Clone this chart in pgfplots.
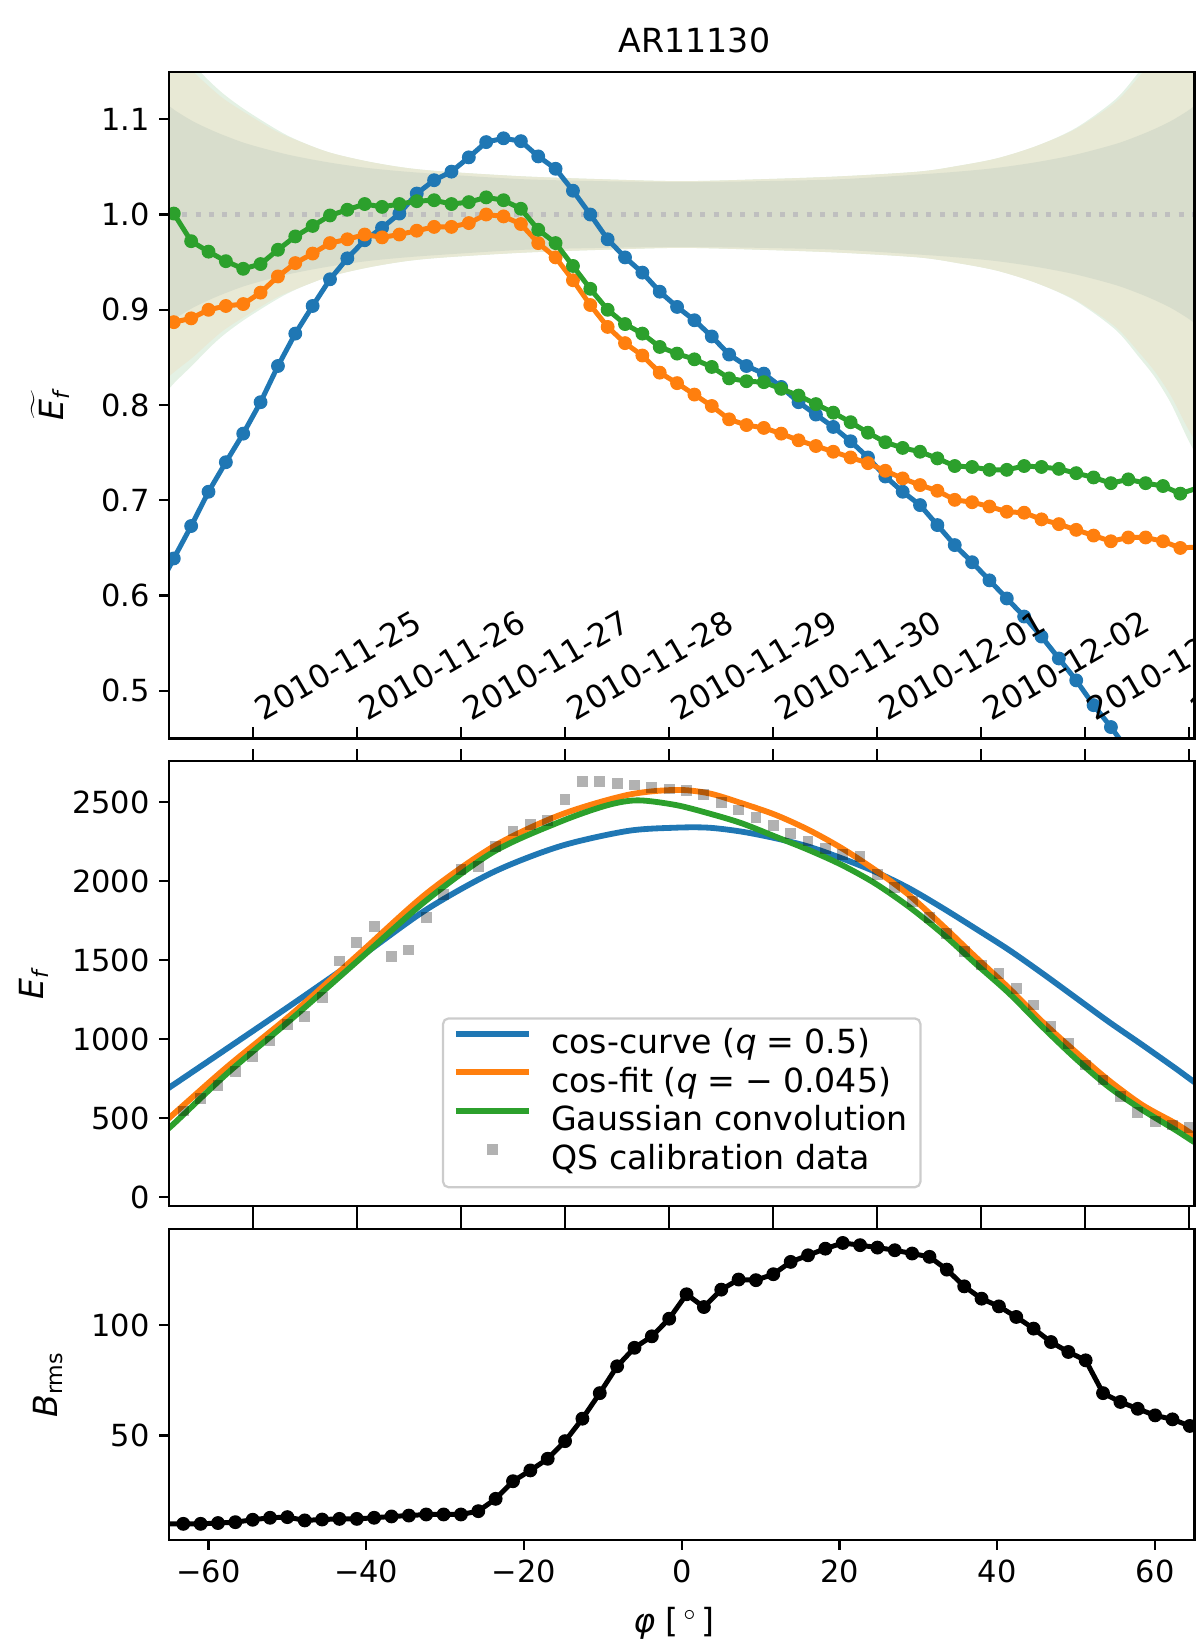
\documentclass[border=0pt]{standalone}
\usepackage{pgfplots}
\pgfplotsset{compat=1.18}
\usepackage{fontspec}
\setmainfont{DejaVu Sans}
\definecolor{c1}{RGB}{31,119,180}
\definecolor{c2}{RGB}{255,127,14}
\definecolor{c3}{RGB}{44,160,44}
\definecolor{bandtan}{RGB}{232,233,213}
\definecolor{banddark}{RGB}{216,221,204}
\definecolor{bandgreen}{RGB}{228,241,228}
\newcommand{\ticksz}{\fontsize{11}{13}\selectfont}
\newcommand{\datesz}{\fontsize{11.5}{13}\selectfont}
\newcommand{\labsz}{\fontsize{12}{14}\selectfont}
\pgfplotsset{
  panel/.style={
    scale only axis, width=370.51pt,
    xmin=-65, xmax=65,
    axis on top,
    axis line style={line width=0.8pt},
    tick style={black, line width=0.8pt},
    major tick length=3.5pt,
    tick align=outside,
    tick label style={font=\ticksz},
    label style={font=\labsz},
    ytick pos=left,
    clip marker paths=true,
  },
  datetick/.style={
    xtick={-54.33,-41.145,-27.96,-14.775,-1.59,11.595,24.78,37.965,51.15,64.335},
  },
  ser/.style={#1, line width=1.8pt, mark=*, mark size=2.3pt, mark options={line width=0.4pt, draw=#1, fill=#1}},
}
\begin{document}
\begin{tikzpicture}
% ---------------- panel 1 ----------------
\begin{axis}[panel, datetick, at={(0,0)}, anchor=north west, height=240.95pt,
  ymin=0.45, ymax=1.15,
  ytick={0.5,0.6,0.7,0.8,0.9,1.0,1.1},
  yticklabels={0.5,0.6,0.7,0.8,0.9,1.0,1.1},
  xtick pos=left,
  xtick align=inside,
  xtick style={/pgfplots/major tick length=4.2pt},
  xticklabels={},
  ylabel={\ensuremath{\widetilde{\hbox{\itshape E\textsubscript{f}}}}},
  ylabel style={at={(axis description cs:-0.116,0.5)}, anchor=center},
  title={AR11130},
  title style={font=\labsz, at={(axis description cs:0.5125,1)}, anchor=base, yshift=0.9pt},
]
\addplot[draw=none, fill=bandgreen, smooth] coordinates {
(-66,1.193) (-65,1.183) (-64,1.174) (-62,1.158) (-60,1.141) (-58,1.126) (-55,1.108) (-50,1.083) (-45,1.066) (-40,1.056) (-35,1.049) (-30,1.045) (-20,1.040) (-10,1.037) (0,1.035) (10,1.037) (20,1.040) (30,1.045) (35,1.051) (40,1.059) (45,1.072) (50,1.091) (55,1.121) (58,1.150) (60,1.171) (62,1.198) (64,1.233) (65,1.249) (66,1.265)
(66,0.735) (65,0.751) (64,0.767) (62,0.802) (60,0.829) (58,0.850) (55,0.879) (50,0.909) (45,0.928) (40,0.941) (35,0.949) (30,0.955) (20,0.960) (10,0.963) (0,0.965) (-10,0.963) (-20,0.960) (-30,0.955) (-35,0.951) (-40,0.944) (-45,0.934) (-50,0.917) (-55,0.892) (-58,0.874) (-60,0.859) (-62,0.842) (-64,0.826) (-65,0.817) (-66,0.807)
} -- cycle;
\addplot[draw=none, fill=bandtan, smooth] coordinates {
(-66,1.178) (-65,1.170) (-64,1.163) (-62,1.150) (-60,1.135) (-58,1.121) (-55,1.105) (-52,1.090) (-50,1.082) (-45,1.066) (-40,1.056) (-35,1.049) (-30,1.045) (-20,1.040) (-10,1.037) (0,1.035) (10,1.037) (20,1.040) (30,1.045) (35,1.051) (40,1.059) (45,1.072) (50,1.090) (55,1.118) (58,1.145) (60,1.165) (62,1.190) (64,1.222) (65,1.236) (66,1.250)
(66,0.750) (65,0.764) (64,0.778) (62,0.810) (60,0.835) (58,0.855) (55,0.882) (50,0.910) (45,0.928) (40,0.941) (35,0.949) (30,0.955) (20,0.960) (10,0.963) (0,0.965) (-10,0.963) (-20,0.960) (-30,0.955) (-35,0.951) (-40,0.944) (-45,0.934) (-50,0.918) (-52,0.910) (-55,0.895) (-58,0.879) (-60,0.865) (-62,0.850) (-64,0.837) (-65,0.830) (-66,0.822)
} -- cycle;
\addplot[draw=none, fill=banddark, smooth] coordinates {
(-66,1.120) (-65,1.114) (-64,1.108) (-62,1.098) (-60,1.090) (-58,1.083) (-55,1.074) (-50,1.063) (-45,1.055) (-40,1.049) (-35,1.045) (-30,1.042) (-20,1.037) (-10,1.035) (0,1.034) (10,1.035) (20,1.037) (30,1.042) (35,1.045) (40,1.049) (45,1.055) (50,1.063) (55,1.074) (58,1.083) (60,1.090) (62,1.098) (64,1.108) (65,1.114) (66,1.120)
(66,0.880) (65,0.886) (64,0.892) (62,0.902) (60,0.910) (58,0.917) (55,0.926) (50,0.937) (45,0.945) (40,0.951) (35,0.955) (30,0.958) (20,0.963) (10,0.965) (0,0.966) (-10,0.965) (-20,0.963) (-30,0.958) (-35,0.955) (-40,0.951) (-45,0.945) (-50,0.937) (-55,0.926) (-58,0.917) (-60,0.910) (-62,0.902) (-64,0.892) (-65,0.886) (-66,0.880)
} -- cycle;
\addplot[gray!50, line width=1.8pt, dash pattern=on 1.8pt off 3pt] coordinates {(-65,1) (65,1)};
% cos-curve
\addplot[ser=c1] coordinates {
(-66.59,0.604) (-64.39,0.639) (-62.19,0.673) (-59.99,0.709) (-57.79,0.740) (-55.59,0.770) (-53.39,0.803) (-51.19,0.841) (-48.99,0.875) (-46.79,0.904) (-44.59,0.932) (-42.39,0.954) (-40.19,0.973) (-37.99,0.986) (-35.79,1.001) (-33.59,1.022) (-31.39,1.036) (-29.19,1.045) (-26.99,1.060) (-24.79,1.076) (-22.59,1.080) (-20.39,1.077) (-18.19,1.061) (-15.99,1.048) (-13.79,1.025) (-11.59,1.000) (-9.39,0.974) (-7.19,0.955) (-4.99,0.939) (-2.79,0.919) (-0.59,0.903) (1.61,0.889) (3.81,0.872) (6.01,0.853) (8.21,0.841) (10.41,0.833) (12.61,0.819) (14.81,0.803) (17.01,0.790) (19.21,0.777) (21.41,0.762) (23.61,0.745) (25.81,0.725) (28.01,0.709) (30.21,0.695) (32.41,0.674) (34.61,0.653) (36.81,0.635) (39.01,0.616) (41.21,0.597) (43.41,0.578) (45.61,0.557) (47.81,0.534) (50.01,0.511) (52.21,0.485) (54.41,0.462) (56.61,0.437) (58.81,0.410)
};
% cos-fit
\addplot[ser=c2] coordinates {
(-64.39,0.887) (-62.19,0.891) (-59.99,0.900) (-57.79,0.904) (-55.59,0.906) (-53.39,0.918) (-51.19,0.935) (-48.99,0.949) (-46.79,0.959) (-44.59,0.970) (-42.39,0.974) (-40.19,0.979) (-37.99,0.976) (-35.79,0.979) (-33.59,0.983) (-31.39,0.987) (-29.19,0.987) (-26.99,0.991) (-24.79,1.000) (-22.59,0.998) (-20.39,0.990) (-18.19,0.970) (-15.99,0.955) (-13.79,0.931) (-11.59,0.905) (-9.39,0.882) (-7.19,0.865) (-4.99,0.852) (-2.79,0.834) (-0.59,0.823) (1.61,0.811) (3.81,0.799) (6.01,0.785) (8.21,0.779) (10.41,0.776) (12.61,0.770) (14.81,0.763) (17.01,0.757) (19.21,0.751) (21.41,0.745) (23.61,0.739) (25.81,0.731) (28.01,0.723) (30.21,0.716) (32.41,0.710) (34.61,0.7005) (36.81,0.698) (39.01,0.6935) (41.21,0.688) (43.41,0.687) (45.61,0.680) (47.81,0.675) (50.01,0.669) (52.21,0.663) (54.41,0.657) (56.61,0.661) (58.81,0.661) (61.01,0.657) (63.21,0.650) (65.41,0.651)
};
% Gaussian convolution
\addplot[ser=c3] coordinates {
(-64.39,1.001) (-62.19,0.972) (-59.99,0.961) (-57.79,0.951) (-55.59,0.943) (-53.39,0.948) (-51.19,0.963) (-48.99,0.977) (-46.79,0.988) (-44.59,0.999) (-42.39,1.005) (-40.19,1.011) (-37.99,1.008) (-35.79,1.011) (-33.59,1.014) (-31.39,1.015) (-29.19,1.011) (-26.99,1.013) (-24.79,1.018) (-22.59,1.015) (-20.39,1.006) (-18.19,0.984) (-15.99,0.970) (-13.79,0.946) (-11.59,0.922) (-9.39,0.900) (-7.19,0.885) (-4.99,0.875) (-2.79,0.861) (-0.59,0.854) (1.61,0.848) (3.81,0.840) (6.01,0.828) (8.21,0.825) (10.41,0.824) (12.61,0.817) (14.81,0.810) (17.01,0.801) (19.21,0.792) (21.41,0.782) (23.61,0.771) (25.81,0.761) (28.01,0.755) (30.21,0.751) (32.41,0.744) (34.61,0.736) (36.81,0.735) (39.01,0.732) (41.21,0.732) (43.41,0.736) (45.61,0.735) (47.81,0.733) (50.01,0.7285) (52.21,0.724) (54.41,0.718) (56.61,0.722) (58.81,0.718) (61.01,0.715) (63.21,0.707) (65.41,0.713)
};
% date labels
\begin{scope}[every node/.style={font=\datesz, inner sep=0pt, anchor=base west, rotate=30}]
\node at ([xshift=3.7pt, yshift=6pt]axis cs:-54.33,0.45) {2010-11-25};
\node at ([xshift=3.7pt, yshift=6pt]axis cs:-41.145,0.45) {2010-11-26};
\node at ([xshift=3.7pt, yshift=6pt]axis cs:-27.96,0.45) {2010-11-27};
\node at ([xshift=3.7pt, yshift=6pt]axis cs:-14.775,0.45) {2010-11-28};
\node at ([xshift=3.7pt, yshift=6pt]axis cs:-1.59,0.45) {2010-11-29};
\node at ([xshift=3.7pt, yshift=6pt]axis cs:11.595,0.45) {2010-11-30};
\node at ([xshift=3.7pt, yshift=6pt]axis cs:24.78,0.45) {2010-12-01};
\node at ([xshift=3.7pt, yshift=6pt]axis cs:37.965,0.45) {2010-12-02};
\node at ([xshift=3.7pt, yshift=6pt]axis cs:51.15,0.45) {2010-12-03};
\node at ([xshift=3.7pt, yshift=6pt]axis cs:64.335,0.45) {2010-12-04};
\end{scope}
\end{axis}
% ---------------- panel 2 ----------------
\begin{axis}[panel, datetick, at={(0,-249.08pt)}, anchor=north west, height=160.67pt,
  ymin=-53, ymax=2761,
  ytick={0,500,1000,1500,2000,2500},
  yticklabels={0,500,1000,1500,2000,2500},
  xtick pos=right, xticklabels={},
  xtick style={/pgfplots/major tick length=4.2pt},
  ylabel={\textit{E}\textsubscript{\textit{f}}},
  ylabel style={at={(axis description cs:-0.132,0.5)}, anchor=center},
  legend cell align=left,
  legend style={at={(0.5,0.039)}, anchor=south, font=\labsz, draw=black!20, line width=0.8pt,
    rounded corners=2pt, fill=white, fill opacity=0.8, text opacity=1,
    inner xsep=3.6pt, inner ysep=2.5pt, row sep=0pt,
    nodes={inner sep=1pt, text height=9.1pt, text depth=2.9pt},
    /tikz/every odd column/.append style={column sep=6pt}},
  legend image code/.code={\draw[mark repeat=2, mark phase=2, #1] plot coordinates {(0pt,4pt) (13.2pt,4pt) (26.4pt,4pt)};},
]
\addplot[c1, line width=2.1pt, smooth] coordinates {
(-66,660) (-64.8,700) (-57.6,943) (-49.2,1228) (-40.7,1523) (-32.3,1823) (-23.8,2060) (-15.4,2222) (-6.9,2318) (-0.8,2339) (3.4,2339) (7.6,2314) (11.9,2272) (16.1,2219) (20.3,2145) (24.5,2061) (28.8,1956) (33.0,1833) (37.2,1702) (41.5,1565) (45.7,1418) (49.9,1265) (54.1,1112) (58.4,964) (62.6,816) (64.9,732) (66,695)
};
\addlegendentry{cos-curve (\textit{q}\hspace{0.3em}=\hspace{0.3em}0.5)}
\addplot[c2, line width=2.1pt, smooth] coordinates {
(-66,457) (-64.8,510) (-57.6,827) (-49.2,1170) (-40.7,1550) (-32.3,1925) (-23.8,2222) (-15.4,2420) (-6.9,2546) (-0.8,2578) (3.4,2557) (7.6,2494) (11.9,2420) (16.1,2325) (20.3,2209) (24.5,2072) (28.8,1913) (33.0,1723) (37.2,1523) (41.5,1323) (45.7,1112) (49.9,922) (54.1,742) (58.4,584) (62.6,468) (64.9,394) (66,360)
};
\addlegendentry{cos-fit (\textit{q}\hspace{0.3em}=\hspace{0.3em}−\hspace{0.3em}0.045)}
\addplot[c3, line width=2.1pt, smooth] coordinates {
(-66,410) (-64.8,447) (-57.6,785) (-49.2,1140) (-40.7,1513) (-32.3,1882) (-23.8,2188) (-15.4,2377) (-9.5,2480) (-5.6,2512) (-0.8,2483) (3.4,2430) (7.6,2367) (11.9,2282) (16.1,2198) (20.3,2103) (24.5,1987) (28.8,1839) (33.0,1671) (37.2,1481) (41.5,1291) (45.7,1080) (49.9,880) (54.1,700) (58.4,553) (62.6,426) (64.9,352) (66,325)
};
\addlegendentry{Gaussian convolution}
\addplot[only marks, mark=square*, mark size=1.95pt, mark options={line width=0pt, draw opacity=0, fill=black, fill opacity=0.3}] coordinates {
(-63.19,546) (-60.99,626) (-58.79,706) (-56.59,795) (-54.39,890) (-52.19,989) (-49.99,1095) (-47.79,1143) (-45.59,1263) (-43.39,1496) (-41.19,1614) (-38.99,1713) (-36.79,1523) (-34.59,1565) (-32.39,1770) (-30.19,1918) (-27.99,2072) (-25.79,2093) (-23.59,2219) (-21.39,2318) (-19.19,2361) (-16.99,2382) (-14.79,2519) (-12.59,2631) (-10.39,2631) (-8.19,2620) (-5.99,2609) (-3.79,2595) (-1.59,2584) (0.61,2572) (2.81,2551) (5.01,2500) (7.21,2451) (9.41,2403) (11.61,2352) (13.81,2304) (16.01,2255) (18.21,2209) (20.41,2171) (22.61,2156) (24.81,2044) (27.01,1960) (29.21,1871) (31.41,1770) (33.61,1671) (35.81,1555) (38.01,1470) (40.21,1418) (42.41,1323) (44.61,1217) (46.81,1080) (49.01,975) (51.21,837) (53.41,742) (55.61,637) (57.81,538) (60.01,479) (62.21,458) (64.41,440)
};
\addlegendentry{QS calibration data}
\end{axis}
% ---------------- panel 3 ----------------
\begin{axis}[panel, at={(0,-418.28pt)}, anchor=north west, height=112.26pt,
  ymin=2.5, ymax=143.6,
  ytick={50,100}, yticklabels={50,100},
  xtick={-60,-40,-20,0,20,40,60},
  xticklabels={−60,−40,−20,0,20,40,60},
  xtick pos=left,
  xlabel={\textit{φ} [\hspace{0.15em}$^{\circ}$\hspace{0.15em}]},
  xlabel style={at={(axis description cs:0.4925,-0.267)}, anchor=center},
  ylabel={\textit{B}\textsubscript{rms}},
  ylabel style={at={(axis description cs:-0.118,0.5)}, anchor=center},
]
\addplot[ser=black] coordinates {
(-65.39,9.8) (-63.19,9.85) (-60.99,9.85) (-58.79,10.2) (-56.59,10.6) (-54.39,11.7) (-52.19,12.6) (-49.99,12.9) (-47.79,11.4) (-45.59,11.8) (-43.39,12.1) (-41.19,12.1) (-38.99,12.6) (-36.79,13.2) (-34.59,13.6) (-32.39,14.1) (-30.19,14.1) (-27.99,14.1) (-25.79,15.6) (-23.59,21.2) (-21.39,29.2) (-19.19,34.1) (-16.99,39.4) (-14.79,47.4) (-12.59,57.6) (-10.39,69.2) (-8.19,81.4) (-5.99,89.8) (-3.79,95.0) (-1.59,103.0) (0.61,114.1) (2.81,108.3) (5.01,116.2) (7.21,120.8) (9.41,120.5) (11.61,123.2) (13.81,128.8) (16.01,131.8) (18.21,134.8) (20.41,137.4) (22.61,136.4) (24.81,135.3) (27.01,134.1) (29.21,132.6) (31.41,131.1) (33.61,125.3) (35.81,117.7) (38.01,112.1) (40.21,108.6) (42.41,103.8) (44.61,98.5) (46.81,92.4) (49.01,87.9) (51.21,84.1) (53.41,69.2) (55.61,65.2) (57.81,62.1) (60.01,59.1) (62.21,57.3) (64.41,54.3)
};
\end{axis}
% date ticks on top of panel 3 (filling the gap up to panel 2)
\begin{axis}[panel, datetick, at={(0,-418.28pt)}, anchor=north west, height=112.26pt,
  ymin=0, ymax=1, hide y axis, axis x line*=top,
  xtick pos=right, xticklabels={},
  xtick style={/pgfplots/major tick length=8.4pt},
]
\addplot[draw=none] coordinates {(0,0.5)};
\end{axis}
\pgfresetboundingbox
\path[use as bounding box] (-61.06pt,25.87pt) rectangle (372.45pt,-569.2pt);
\end{tikzpicture}
\end{document}
